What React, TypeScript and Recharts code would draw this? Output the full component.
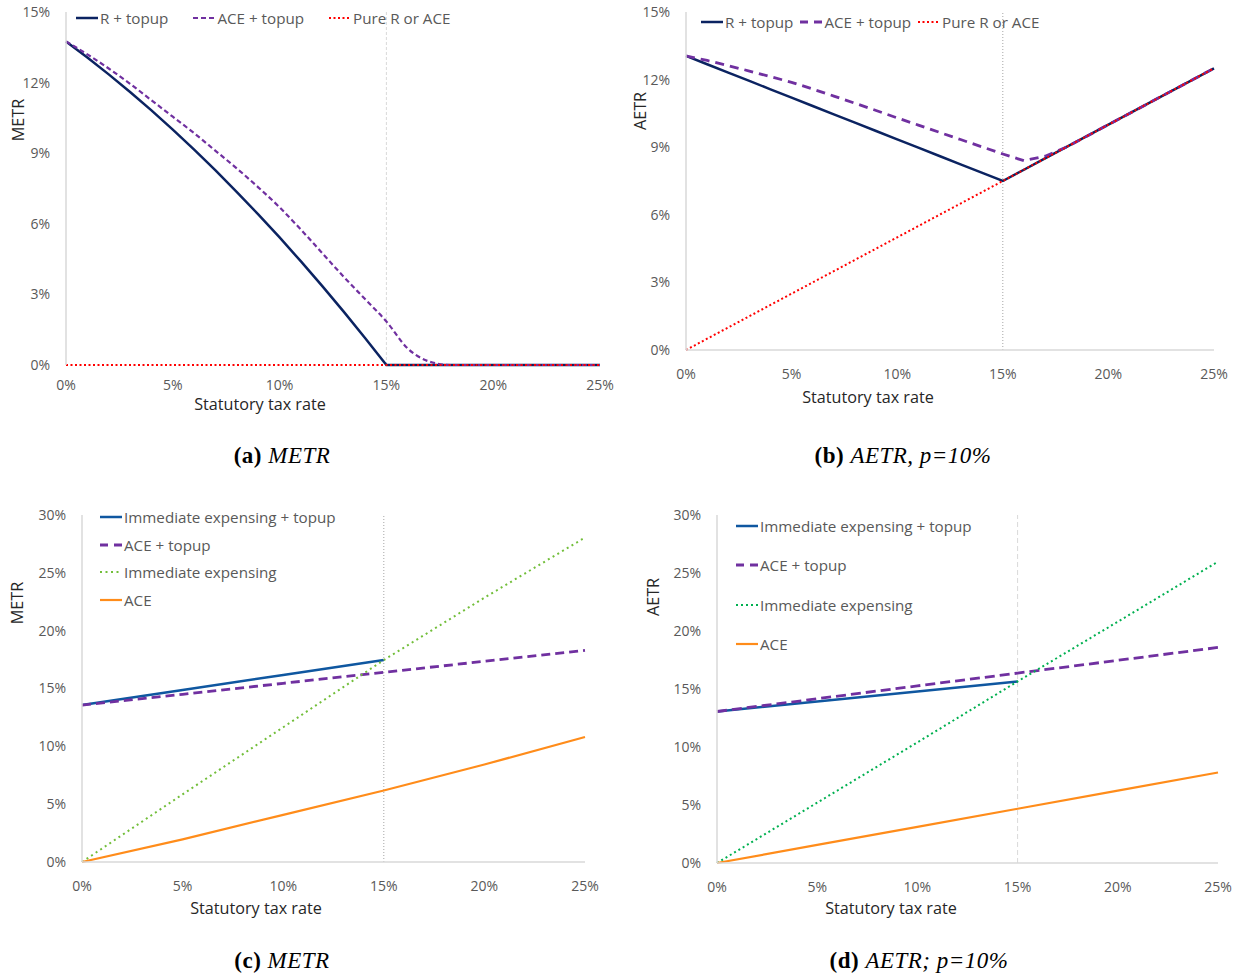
import React from "react";
import { LineChart, Line, XAxis, YAxis, ReferenceLine, Label } from "recharts";

// statutory tax rate grid (%), panels a and b
const fineRates = [0, 1, 2, 3, 4, 5, 6, 7, 8, 9, 10, 11, 12, 13, 14, 15, 16, 17, 18, 19, 20, 21, 22, 23, 24, 25];
// panels c and d
const coarseRates = [0, 5, 10, 15, 20, 25];

const xTicks = [0, 5, 10, 15, 20, 25];

// (a) METR
const metrRTopup = [13.75, 13.07, 12.35, 11.6, 10.82, 10.0, 9.15, 8.27, 7.35, 6.4, 5.42, 4.4, 3.35, 2.27, 1.15, 0, 0, 0, 0, 0, 0, 0, 0, 0, 0, 0];
const metrAceTopup = [13.75, 13.2, 12.6, 11.95, 11.25, 10.55, 9.85, 9.1, 8.35, 7.55, 6.7, 5.75, 4.75, 3.75, 2.8, 1.85, 0.7, 0.15, 0, 0, 0, 0, 0, 0, 0, 0];
const metrPure = [0, 0, 0, 0, 0, 0, 0, 0, 0, 0, 0, 0, 0, 0, 0, 0, 0, 0, 0, 0, 0, 0, 0, 0, 0, 0];

// (b) AETR, p=10%
const aetrRTopup = [13.05, 12.68, 12.31, 11.94, 11.57, 11.2, 10.83, 10.46, 10.09, 9.72, 9.35, 8.98, 8.61, 8.24, 7.87, 7.5, 8.0, 8.5, 9.0, 9.5, 10.0, 10.5, 11.0, 11.5, 12.0, 12.5];
const aetrAceTopup = [13.05, 12.85, 12.62, 12.38, 12.13, 11.88, 11.58, 11.27, 10.95, 10.63, 10.3, 9.98, 9.66, 9.34, 9.02, 8.7, 8.4, 8.6, 9.0, 9.5, 10.0, 10.5, 11.0, 11.5, 12.0, 12.5];
const aetrPure = [0, 0.5, 1.0, 1.5, 2.0, 2.5, 3.0, 3.5, 4.0, 4.5, 5.0, 5.5, 6.0, 6.5, 7.0, 7.5, 8.0, 8.5, 9.0, 9.5, 10.0, 10.5, 11.0, 11.5, 12.0, 12.5];

// (c) METR, expensing vs ACE
const metrIeTopup = [13.57, 14.87, 16.17, 17.46, null, null];
const metrAceTopupC = [13.57, 14.5, 15.45, 16.4, 17.35, 18.3];
const metrIe = [0, 5.85, 11.65, 17.46, 22.85, 28.05];
const metrAce = [0, 1.96, 4.08, 6.18, 8.43, 10.81];

// (d) AETR; p=10%
const aetrIeTopup = [13.06, 13.92, 14.79, 15.65, null, null];
const aetrAceTopupD = [13.06, 14.16, 15.27, 16.37, 17.47, 18.58];
const aetrIe = [0, 5.2, 10.4, 15.65, 20.8, 25.98];
const aetrAce = [0, 1.56, 3.12, 4.68, 6.24, 7.8];

const FONT = "'Open Sans', 'Noto Sans', sans-serif";
const SERIF = "'Liberation Serif', 'DejaVu Serif', serif";
const TICK_GREY = "#595959";
const AXIS_GREY = "#D9D9D9";

const NAVY = "#0B2361";
const PURPLE = "#7030A0";
const RED = "#FF0000";
const BLUE = "#0F57A0";
const LIME = "#72BE3A";
const GREEN = "#00B050";
const ORANGE = "#FF8C1A";

type Series = {
  key: string;
  name: string;
  values: (number | null)[];
  color: string;
  width: number;
  dash?: string;
  curve?: "linear" | "monotone";
  legendDash?: string;
};

type LegendCfg = { left: number; top: number; vertical: boolean; rowGap: number; gap: number };

type PanelProps = {
  left: number;
  top: number;
  width: number;
  height: number;
  margin: { top: number; right: number; bottom: number; left: number };
  yWidth: number;
  xHeight: number;
  xTickMargin: number;
  rates: number[];
  yMax: number;
  yTicks: number[];
  series: Series[];
  refStroke: string;
  refDash: string;
  yTitle: string;
  yTitlePos: [number, number];
  xTitlePos: [number, number];
  // bottom axis hidden where the zero series already runs along it
  hideXAxisLine?: boolean;
};

function LegendSample({ s }: { s: Series }) {
  return (
    <svg width={22} height={10} style={{ display: "block", flexShrink: 0 }}>
      <line
        x1={0}
        y1={5}
        x2={22}
        y2={5}
        stroke={s.color}
        strokeWidth={s.width}
        strokeDasharray={s.legendDash ?? s.dash}
      />
    </svg>
  );
}

function PanelLegend({ series, cfg }: { series: Series[]; cfg: LegendCfg }) {
  return (
    <div
      style={{
        position: "absolute",
        left: cfg.left,
        top: cfg.top,
        display: "flex",
        flexDirection: cfg.vertical ? "column" : "row",
        alignItems: "flex-start",
        gap: cfg.vertical ? cfg.rowGap : cfg.gap,
        fontFamily: FONT,
        fontSize: 15.2,
        color: TICK_GREY,
        lineHeight: "18px",
        whiteSpace: "nowrap",
      }}
    >
      {series.map((s) => (
        <div key={s.key} style={{ display: "flex", alignItems: "center", gap: 2 }}>
          <LegendSample s={s} />
          <span>{s.name}</span>
        </div>
      ))}
    </div>
  );
}

function Panel(p: PanelProps) {
  const rows = p.rates.map((r, i) => {
    const row: Record<string, number | null> = { rate: r };
    p.series.forEach((s) => {
      row[s.key] = s.values[i];
    });
    return row;
  });
  const tickStyle = { fill: TICK_GREY, fontSize: 14, fontFamily: FONT };
  const titleStyle = { fill: "#262626", fontSize: 16.2, fontFamily: FONT };

  return (
    <div style={{ position: "absolute", left: p.left, top: p.top, width: p.width, height: p.height }}>
      <LineChart width={p.width} height={p.height} data={rows} margin={p.margin}>
        <XAxis
          dataKey="rate"
          type="number"
          domain={[0, 25]}
          ticks={xTicks}
          tickFormatter={(v: number) => `${v}%`}
          tick={tickStyle}
          tickLine={false}
          tickMargin={p.xTickMargin}
          axisLine={p.hideXAxisLine ? false : { stroke: AXIS_GREY, strokeWidth: 1.5 }}
          height={p.xHeight}
          interval={0}
        >
          <Label
            content={() => (
              <text x={p.xTitlePos[0]} y={p.xTitlePos[1]} textAnchor="middle" dominantBaseline="central" {...titleStyle}>
                Statutory tax rate
              </text>
            )}
          />
        </XAxis>
        <YAxis
          type="number"
          domain={[0, p.yMax]}
          ticks={p.yTicks}
          tickFormatter={(v: number) => `${v}%`}
          tick={tickStyle}
          tickLine={false}
          tickMargin={10}
          axisLine={{ stroke: AXIS_GREY, strokeWidth: 1.5 }}
          width={p.yWidth}
          interval={0}
        >
          <Label
            content={() => (
              <text
                x={p.yTitlePos[0]}
                y={p.yTitlePos[1]}
                textAnchor="middle"
                dominantBaseline="central"
                transform={`rotate(-90 ${p.yTitlePos[0]} ${p.yTitlePos[1]})`}
                {...titleStyle}
              >
                {p.yTitle}
              </text>
            )}
          />
        </YAxis>
        <ReferenceLine x={15} stroke={p.refStroke} strokeDasharray={p.refDash} strokeWidth={1} />
        {p.series.map((s) => (
          <Line
            key={s.key}
            dataKey={s.key}
            name={s.name}
            type={s.curve ?? "linear"}
            stroke={s.color}
            strokeWidth={s.width}
            strokeDasharray={s.dash}
            dot={false}
            activeDot={false}
            isAnimationActive={false}
          />
        ))}
      </LineChart>
    </div>
  );
}

function Caption({ x, y, tag, text }: { x: number; y: number; tag: string; text: string }) {
  return (
    <div
      style={{
        position: "absolute",
        left: x - 150,
        top: y - 15,
        width: 300,
        textAlign: "center",
        fontFamily: SERIF,
        fontSize: 23,
        letterSpacing: 0.5,
        lineHeight: "30px",
        color: "#000",
      }}
    >
      <b>{tag}</b> <i>{text}</i>
    </div>
  );
}

const seriesA: Series[] = [
  { key: "rTopup", name: "R + topup", values: metrRTopup, color: NAVY, width: 2.5 },
  { key: "aceTopup", name: "ACE + topup", values: metrAceTopup, color: PURPLE, width: 2.2, dash: "5 3", curve: "monotone" },
  { key: "pure", name: "Pure R or ACE", values: metrPure, color: RED, width: 2, dash: "2 2.5" },
];

const seriesB: Series[] = [
  { key: "rTopup", name: "R + topup", values: aetrRTopup, color: NAVY, width: 2.5 },
  { key: "aceTopup", name: "ACE + topup", values: aetrAceTopup, color: PURPLE, width: 2.8, dash: "9 6", legendDash: "8 6" },
  { key: "pure", name: "Pure R or ACE", values: aetrPure, color: RED, width: 2, dash: "2 2.5" },
];

const seriesC: Series[] = [
  { key: "ieTopup", name: "Immediate expensing + topup", values: metrIeTopup, color: BLUE, width: 2.5 },
  { key: "aceTopup", name: "ACE + topup", values: metrAceTopupC, color: PURPLE, width: 2.8, dash: "9 5", legendDash: "8 6" },
  { key: "ie", name: "Immediate expensing", values: metrIe, color: LIME, width: 2, dash: "2 3.5" },
  { key: "ace", name: "ACE", values: metrAce, color: ORANGE, width: 2.2 },
];

const seriesD: Series[] = [
  { key: "ieTopup", name: "Immediate expensing + topup", values: aetrIeTopup, color: BLUE, width: 2.5 },
  { key: "aceTopup", name: "ACE + topup", values: aetrAceTopupD, color: PURPLE, width: 2.8, dash: "10 5", legendDash: "8 6" },
  { key: "ie", name: "Immediate expensing", values: aetrIe, color: GREEN, width: 2, dash: "2 3" },
  { key: "ace", name: "ACE", values: aetrAce, color: ORANGE, width: 2.2 },
];

export default function App() {
  return (
    <div style={{ position: "absolute", left: 0, top: 0, width: 1239, height: 977, background: "#fff", overflow: "hidden" }}>
      <Panel
        left={0}
        top={0}
        width={620}
        height={420}
        margin={{ top: 12, right: 20, bottom: 0, left: 0 }}
        yWidth={66}
        xHeight={55}
        xTickMargin={9}
        rates={fineRates}
        yMax={15}
        yTicks={[0, 3, 6, 9, 12, 15]}
        series={seriesA}
        refStroke={AXIS_GREY}
        refDash="3 2"
        yTitle="METR"
        yTitlePos={[18, 120]}
        xTitlePos={[260, 404]}
        hideXAxisLine
      />
      <PanelLegend series={seriesA} cfg={{ left: 76, top: 9, vertical: false, rowGap: 0, gap: 25 }} />

      <Panel
        left={620}
        top={0}
        width={619}
        height={420}
        margin={{ top: 12, right: 25, bottom: 0, left: 0 }}
        yWidth={66}
        xHeight={70}
        xTickMargin={13}
        rates={fineRates}
        yMax={15}
        yTicks={[0, 3, 6, 9, 12, 15]}
        series={seriesB}
        refStroke="#A6A6A6"
        refDash="1 2"
        yTitle="AETR"
        yTitlePos={[20, 111]}
        xTitlePos={[248, 397]}
      />
      <PanelLegend series={seriesB} cfg={{ left: 701, top: 13, vertical: false, rowGap: 0, gap: 7 }} />

      <Panel
        left={0}
        top={500}
        width={620}
        height={420}
        margin={{ top: 15, right: 35, bottom: 0, left: 0 }}
        yWidth={82}
        xHeight={58}
        xTickMargin={13}
        rates={coarseRates}
        yMax={30}
        yTicks={[0, 5, 10, 15, 20, 25, 30]}
        series={seriesC}
        refStroke="#A6A6A6"
        refDash="1 2"
        yTitle="METR"
        yTitlePos={[17, 103]}
        xTitlePos={[256, 408]}
      />
      <PanelLegend series={seriesC} cfg={{ left: 100, top: 508, vertical: true, rowGap: 9.7, gap: 0 }} />

      <Panel
        left={620}
        top={500}
        width={619}
        height={420}
        margin={{ top: 15, right: 21, bottom: 0, left: 0 }}
        yWidth={97}
        xHeight={57}
        xTickMargin={13}
        rates={coarseRates}
        yMax={30}
        yTicks={[0, 5, 10, 15, 20, 25, 30]}
        series={seriesD}
        refStroke={AXIS_GREY}
        refDash="5 3"
        yTitle="AETR"
        yTitlePos={[33, 97]}
        xTitlePos={[271, 408]}
      />
      <PanelLegend series={seriesD} cfg={{ left: 736, top: 517, vertical: true, rowGap: 21.3, gap: 0 }} />

      <Caption x={282} y={456} tag="(a)" text="METR" />
      <Caption x={903} y={456} tag="(b)" text="AETR, p=10%" />
      <Caption x={282} y={961} tag="(c)" text="METR" />
      <Caption x={919} y={961} tag="(d)" text="AETR; p=10%" />
    </div>
  );
}
